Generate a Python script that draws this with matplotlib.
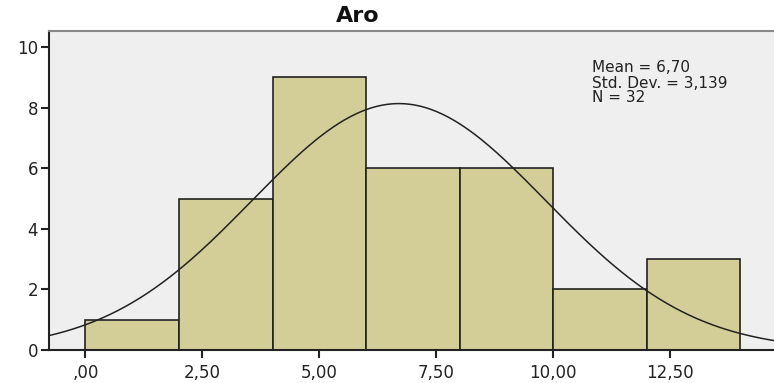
import matplotlib
matplotlib.use('Agg')
import matplotlib.pyplot as plt
import numpy as np

plt.rcParams['font.family'] = ['DejaVu Sans']

# Histogram data (bins of width 2 from 0 to 14)
bin_edges = [0, 2, 4, 6, 8, 10, 12, 14]
counts = [1, 5, 9, 6, 6, 2, 3]
mean_val = 6.70
std_val = 3.139
n_val = 32
x_ticks = [0, 2.5, 5, 7.5, 10, 12.5]
x_labels = [',00', '2,50', '5,00', '7,50', '10,00', '12,50']
y_ticks = [0, 2, 4, 6, 8, 10]
stats_lines = ['Mean = 6,70', 'Std. Dev. = 3,139', 'N = 32']

W, H = 774, 383
fig = plt.figure(figsize=(W / 100, H / 100), dpi=100)
ax = fig.add_axes([49 / W, 1 - 350 / H, 1 - 49 / W, (350 - 31) / H])
ax.set_facecolor('#efefef')

widths = np.diff(bin_edges)
ax.bar(bin_edges[:-1], counts, width=widths, align='edge',
       color='#d3ce97', edgecolor='#222222', linewidth=1.2, zorder=2)

# normal curve scaled to counts
xs = np.linspace(-1, 15, 400)
bw = widths[0]
ys = n_val * bw / (std_val * np.sqrt(2 * np.pi)) * np.exp(-0.5 * ((xs - mean_val) / std_val) ** 2)
ax.plot(xs, ys, color='#222222', linewidth=1.1, zorder=3)

ax.set_xlim(-0.78, 14.72)
ax.set_ylim(0, 10.53)
ax.set_xticks(x_ticks)
ax.set_xticklabels(x_labels)
ax.set_yticks(y_ticks)
ax.tick_params(axis='both', direction='out', length=6, width=1.5,
               labelsize=12, colors='#222222')
ax.tick_params(axis='x', pad=4)
ax.tick_params(axis='y', pad=2)

ax.spines['right'].set_visible(False)
ax.spines['top'].set_color('#888888')
ax.spines['top'].set_linewidth(1.5)
ax.spines['left'].set_color('#222222')
ax.spines['left'].set_linewidth(1.5)
ax.spines['bottom'].set_color('#222222')
ax.spines['bottom'].set_linewidth(1.5)

for i, line in enumerate(stats_lines):
    fig.text(592 / W, 1 - (68 + 15 * i) / H, line, fontsize=11,
             va='center', ha='left', color='#222222')

fig.text(358 / W, 1 - 16 / H, 'Aro', fontsize=16, fontweight='bold',
         ha='center', va='center', color='#111111')

fig.savefig('out.png', dpi=100)
